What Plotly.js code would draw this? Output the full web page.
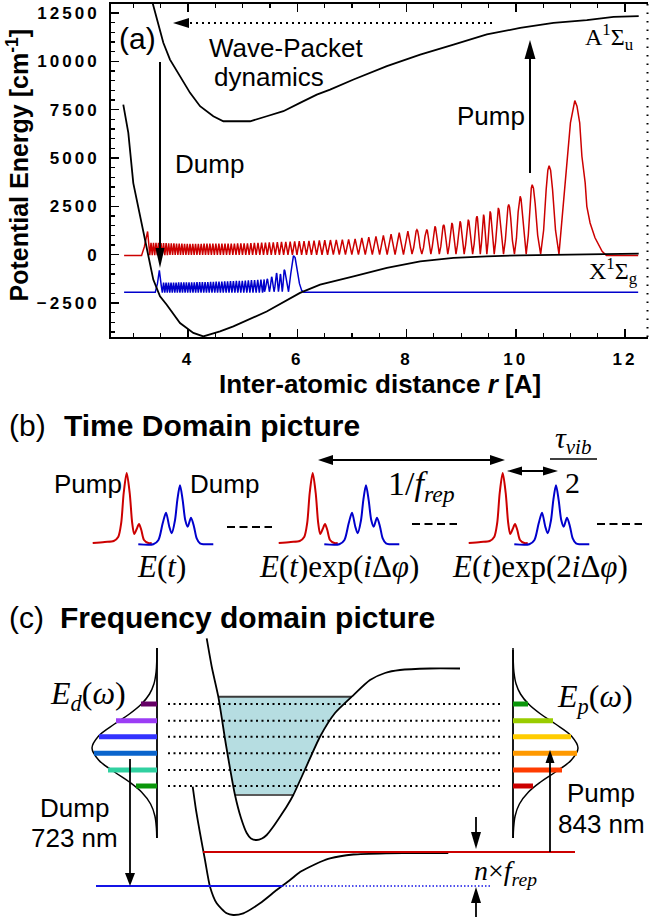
<!DOCTYPE html>
<html>
<head>
<meta charset="utf-8">
<script src="https://cdn.plot.ly/plotly-3.0.1.min.js"></script>
<style>
  html, body { margin:0; padding:0; background:#fff; }
  #fig { width:649px; height:921px; }
  .xtick text, .ytick text { letter-spacing: 3px; }
</style>
</head>
<body>
<div id="fig"></div>
<script>
// ================= DATA =================
// (a) Potential energy curves: r [Å], energy [cm^-1]
const rA = [3.30, 3.354, 3.548, 3.67, 3.853, 4.037, 4.22, 4.463, 4.647, 5.136, 5.441, 5.745, 6.05, 6.357, 6.60, 7.03, 7.64, 8.25, 8.86, 9.47, 10.08, 10.69, 11.30, 11.79, 12.25];
const eA = [13560, 12990, 10960, 10090, 9230, 8370, 7680, 7160, 6900, 6900, 7160, 7420, 7850, 8280, 8540, 9060, 9750, 10350, 10870, 11390, 11730, 11990, 12130, 12300, 12340];
const rX = [2.815, 2.907, 2.998, 3.181, 3.273, 3.364, 3.487, 3.61, 3.853, 4.097, 4.28, 4.586, 4.83, 5.44, 6.05, 6.418, 7.03, 7.64, 8.25, 8.86, 9.47, 10.08, 11.30, 12.25];
const eX = [7760, 6300, 3700, 1290, 90, -1290, -2160, -2590, -3540, -4050, -4230, -3970, -3710, -2940, -1980, -1550, -1120, -690, -350, -170, -90, -35, 15, 50];

// (a) red wave packet (pump)
const redLeadR = [2.83, 3.15, 3.20, 3.26, 3.29];
const redLeadE = [-50, -40, 400, 1200, 300];
const redDenseR   = [3.30, 4.0, 5.0, 6.0, 7.0, 7.6, 8.10];
const redDenseTop = [620, 560, 580, 690, 800, 1000, 1250];
const redDenseBot = [-30, -10, -10, -10, 0, 0, 0];
const redDensePer = [0.045, 0.05, 0.06, 0.085, 0.12, 0.14, 0.17];
const redPeakR = [8.19, 8.37, 8.52, 8.68, 8.83, 8.98, 9.13, 9.29, 9.41, 9.53, 9.68, 9.87, 10.08, 10.30, 10.61];
const redPeakE = [1290, 1300, 1470, 1550, 1640, 1730, 1810, 1990, 2070, 2240, 2420, 2590, 3020, 3620, 4600];
const redTroughE = 30;
const redTailR = [10.79, 10.84, 10.90, 10.95, 11.00, 11.08, 11.12, 11.17, 11.21, 11.27, 11.30, 11.36, 11.45, 11.58, 11.66, 12.24];
const redTailE = [30, 1640, 3370, 5090, 6820, 7970, 7680, 6820, 5090, 3710, 2500, 1640, 870, 170, -50, -50];

// (a) blue wave packet (dump)
const blueLeadR = [2.83, 3.40, 3.44, 3.475, 3.51];
const blueLeadE = [-1950, -1950, -1500, -810, -1600];
const blueDenseR   = [3.53, 4.3, 5.0, 5.40];
const blueDenseTop = [-1450, -1420, -1350, -1280];
const blueDenseBot = [-1960, -1960, -1960, -1960];
const blueDensePer = [0.045, 0.05, 0.055, 0.06];
const bluePeakR = [5.45, 5.53, 5.62, 5.69, 5.76];
const bluePeakE = [-1250, -1150, -950, -1000, -780];
const blueTroughE = -1920;
const blueTailR = [5.84, 5.88, 5.91, 5.93, 5.96, 6.00, 6.04, 6.08, 6.12, 12.24];
const blueTailE = [-1920, -1000, -300, -50, -150, -900, -1500, -1850, -1950, -1950];

// axis ticks (a)
const yTickVals = [-2500, 0, 2500, 5000, 7500, 10000, 12500];
const xTickVals = [4, 6, 8, 10, 12];

// (b) pulse shapes (time offset from pump maximum, amplitude)
const pulseGroupShift = [0, 186, 376];
const pumpT = [-34, -22, -13, -8.5, -5.5, -3, 0, 3, 5.5, 7.5, 10, 12.3, 14.6, 17.3, 21.6, 25];
const pumpA = [0, 1, 2, 6, 20, 50, 70, 50, 20, 9, 14, 19, 13, 3, 0, 0];
const dumpT = [11.6, 26.6, 31.6, 36, 39.3, 42.6, 45, 48.3, 50.6, 53.3, 56, 58.6, 61, 64.3, 67.3, 70, 73.3, 86.6];
const dumpA = [0, 0, 4, 21, 31.6, 17.6, 11, 24, 44, 59, 44, 24, 17.6, 26.6, 17.6, 6, 1, 0];

// (c) schematic: spectral envelope (shared by E_d and E_p), comb lines
const specY   = [648, 660, 672, 684, 694, 704, 714, 724, 736, 748, 760, 772, 782, 792, 804, 816, 828, 838];
const specAmp = [0, 0.2, 0.9, 3.1, 7.5, 15.5, 27.6, 42.5, 58.4, 65, 58.4, 42.5, 27.6, 15.5, 6.4, 2.1, 0.6, 0.2];
const combY = [704, 720.7, 736.7, 753.3, 770, 786];
const dumpBarLen = [16, 41, 58, 63, 49, 21];
const pumpBarLen = [15, 40, 58, 64, 49, 20];
// (c) schematic potentials
const upperX = [206.7, 212, 218.3, 226, 235, 241, 246.7, 251, 256.7, 262, 266.7, 273, 280, 287, 293.3, 305, 320, 335, 351.7, 370, 385, 400, 430, 460];
const upperY = [638.3, 668, 696.7, 745, 795, 818, 833, 838.5, 840, 838.5, 835, 827, 816.7, 806, 795, 769.5, 736.7, 713, 696.7, 680, 673, 670, 668.5, 668.5];
const shadeX = [218.3, 351.7, 335, 320, 305, 293.3, 235, 226, 218.3];
const shadeY = [696.7, 696.7, 713, 736.7, 769.5, 795, 795, 745, 696.7];
const lowerX = [192.7, 196, 200, 205, 210, 216.7, 226.7, 233.3, 243.3, 260, 276.7, 290, 300, 310, 320, 330, 353.3, 386.7, 420, 448.3];
const lowerY = [786.7, 810, 833, 860, 886.7, 903.3, 913.3, 915, 913.3, 903.3, 890, 880, 872, 866.7, 862, 858.3, 854.5, 853.3, 853, 853];

// ================= STYLES =================
const SANS = '"Liberation Sans", Arial, sans-serif';
const SERIF = '"Liberation Serif", "Times New Roman", serif';
const RED = '#cc0000', BLUE = '#0000cc';
const dumpColors = ['#660066', '#9b3cf5', '#3333ff', '#0a64cc', '#30d0a0', '#0a960a'];
const pumpColors = ['#0a960a', '#99cc00', '#ffcc00', '#ff9900', '#ff3c00', '#cc0000'];

// ================= HELPERS =================
function interp(xs, ys, x) {
  if (x <= xs[0]) return ys[0];
  for (let i = 1; i < xs.length; i++) {
    if (x <= xs[i]) { const f = (x - xs[i-1]) / (xs[i] - xs[i-1]); return ys[i-1] + f * (ys[i] - ys[i-1]); }
  }
  return ys[ys.length - 1];
}
function zigzag(R, top, bot, per) {
  const x = [], y = []; let r = R[0], up = false; const end = R[R.length - 1];
  while (r < end) { x.push(r); y.push(interp(R, up ? top : bot, r)); r += interp(R, per, r) / 2; up = !up; }
  return {x, y};
}
function lobes(pR, pE, tStart, tEnd, tE) {
  const t = [tStart]; for (let i = 1; i < pR.length; i++) t.push((pR[i-1] + pR[i]) / 2); t.push(tEnd);
  const F = [0.35, 0.65, 0.85], V = [0.27, 0.73, 0.95];
  const x = [], y = [];
  for (let i = 0; i < pR.length; i++) {
    const a = t[i], p = pR[i], b = t[i+1], h = pE[i] - tE;
    x.push(a); y.push(tE);
    F.forEach((f, k) => { x.push(a + f * (p - a)); y.push(tE + V[k] * h); });
    x.push(p); y.push(pE[i]);
    for (let k = F.length - 1; k >= 0; k--) { x.push(b - F[k] * (b - p)); y.push(tE + V[k] * h); }
  }
  x.push(tEnd); y.push(tE);
  return {x, y};
}
function packet(leadR, leadE, dR, dT, dB, dP, pR, pE, tE, tailR, tailE) {
  const z = zigzag(dR, dT, dB, dP);
  const l = lobes(pR, pE, dR[dR.length-1], tailR[0], tE);
  return { x: [...leadR, ...z.x, ...l.x, ...tailR], y: [...leadE, ...z.y, ...l.y, ...tailE] };
}

const traces = [];
const A = {xaxis: 'x', yaxis: 'y'}, P = {xaxis: 'x2', yaxis: 'y2'};
function add(x, y, opt) {
  traces.push(Object.assign({type: 'scatter', mode: 'lines', x, y, hoverinfo: 'skip', showlegend: false}, opt));
}

// ================= PANEL (a) TRACES =================
const blueWP = packet(blueLeadR, blueLeadE, blueDenseR, blueDenseTop, blueDenseBot, blueDensePer, bluePeakR, bluePeakE, blueTroughE, blueTailR, blueTailE);
const redWP = packet(redLeadR, redLeadE, redDenseR, redDenseTop, redDenseBot, redDensePer, redPeakR, redPeakE, redTroughE, redTailR, redTailE);
add(blueWP.x, blueWP.y, Object.assign({name: 'dump packet', line: {color: BLUE, width: 1.5}}, A));
add(redWP.x, redWP.y, Object.assign({name: 'pump packet', line: {color: RED, width: 1.5}}, A));
add(rX, eX, Object.assign({name: 'X state', line: {color: '#000', width: 1.8}}, A));
add(rA, eA, Object.assign({name: 'A state', line: {color: '#000', width: 1.8}}, A));

// ================= PANEL (b) TRACES (schematic, pixel scale) =================
const bT0 = 126.7, bRedBase = 543, bBlueBase = 544.3;
pulseGroupShift.forEach(s => {
  add(pumpT.map(t => bT0 + s + t), pumpA.map(a => bRedBase - a), Object.assign({line: {color: RED, width: 2, shape: 'spline', smoothing: 0.8}}, P));
  add(dumpT.map(t => bT0 + s + t), dumpA.map(a => bBlueBase - a), Object.assign({line: {color: BLUE, width: 2, shape: 'spline', smoothing: 0.8}}, P));
});

// ================= PANEL (c) TRACES =================
add(shadeX, shadeY, Object.assign({fill: 'toself', fillcolor: '#b6dde1', line: {width: 0}}, P));
add([shadeX[0], shadeX[1]], [shadeY[0], shadeY[1]], Object.assign({line: {color: '#3a3a3a', width: 2}}, P));
add([shadeX[5], shadeX[6]], [shadeY[5], shadeY[6]], Object.assign({line: {color: '#5a5a5a', width: 2}}, P));
// dotted comb levels
const dotX = [], dotY = [];
combY.forEach(v => { dotX.push(168, 502, null); dotY.push(v, v, null); });
add(dotX, dotY, Object.assign({line: {color: '#000', width: 2, dash: '2px,3.5px'}}, P));
add(upperX, upperY, Object.assign({line: {color: '#000', width: 1.8, shape: 'spline', smoothing: 0.6}}, P));
add(lowerX, lowerY, Object.assign({line: {color: '#000', width: 1.8, shape: 'spline', smoothing: 0.6}}, P));
add([203, 575], [852, 852], Object.assign({line: {color: RED, width: 2}}, P));
add([96, 282], [886, 886], Object.assign({line: {color: '#1414e6', width: 2}}, P));
add([282, 492], [886, 886], Object.assign({line: {color: '#1414e6', width: 1.6, dash: '1.5px,2px'}}, P));
// spectral envelopes
const dAxisX = 157, pAxisX = 513;
add([dAxisX, dAxisX], [648, 838], Object.assign({line: {color: '#000', width: 1.8}}, P));
add([pAxisX, pAxisX], [650, 838], Object.assign({line: {color: '#000', width: 1.8}}, P));
add(specAmp.map(a => dAxisX - a), specY, Object.assign({line: {color: '#000', width: 1.5, shape: 'spline'}}, P));
add(specAmp.map(a => pAxisX + a), specY, Object.assign({line: {color: '#000', width: 1.5, shape: 'spline'}}, P));
combY.forEach((v, i) => {
  add([dAxisX - dumpBarLen[i], dAxisX], [v, v], Object.assign({line: {color: dumpColors[i], width: 5}}, P));
  add([pAxisX, pAxisX + pumpBarLen[i]], [v, v], Object.assign({line: {color: pumpColors[i], width: 5}}, P));
});

// ================= SHAPES =================
function head(x, y, dir, len, hw) {
  let p;
  if (dir === 'down') p = `M${x},${y} L${x-hw},${y-len} L${x+hw},${y-len} Z`;
  if (dir === 'up') p = `M${x},${y} L${x-hw},${y+len} L${x+hw},${y+len} Z`;
  if (dir === 'left') p = `M${x},${y} L${x+len},${y-hw} L${x+len},${y+hw} Z`;
  if (dir === 'right') p = `M${x},${y} L${x-len},${y-hw} L${x-len},${y+hw} Z`;
  return {type: 'path', xref: 'x2', yref: 'y2', path: p, fillcolor: '#000', line: {width: 0}, layer: 'above'};
}
function seg(x0, y0, x1, y1, width, dash, color) {
  return {type: 'line', xref: 'x2', yref: 'y2', x0, y0, x1, y1, layer: 'above',
          line: {color: color || '#000', width: width || 2, dash: dash || 'solid'}};
}
const shapes = [
  // panel (a)
  seg(190, 23, 493, 23, 2, '2px,4px'), head(173, 23, 'left', 16, 5),
  seg(160, 62, 160, 250, 2), head(160, 268, 'down', 20, 4.5),
  seg(530, 173, 530, 57, 2), head(530, 40, 'up', 19, 5.5),
  seg(647.5, 4, 647.5, 337, 2, '1.5px,7px'),
  // panel (b)
  seg(227, 527, 272, 527, 2, '8px,4.5px'), seg(412, 524, 457, 524, 2, '8px,4.5px'), seg(597, 524, 642, 524, 2, '8px,4.5px'),
  seg(330, 460, 492, 460, 2), head(318, 460, 'left', 15, 5), head(505, 460, 'right', 15, 5),
  seg(520, 471, 545, 471, 2), head(507, 471, 'left', 15, 4.5), head(558, 471, 'right', 15, 4.5),
  seg(550, 459, 597, 459, 1.5),
  // panel (c)
  seg(130, 759, 130, 875, 1.8), head(130, 886, 'down', 13, 5),
  seg(550, 852, 550, 762, 1.8), head(550, 750, 'up', 13, 4.5),
  seg(476, 817, 476, 835, 1.8), head(476, 849, 'down', 17, 5),
  seg(476, 917, 476, 903, 1.8), head(476, 887, 'up', 16, 5)
];

// ================= ANNOTATIONS =================
function txt(x, y, text, size, opt, fontOpt) {
  return Object.assign({xref: 'x2', yref: 'y2', x, y, text, showarrow: false, xanchor: 'left', yanchor: 'middle',
    font: Object.assign({size, family: SANS, color: '#000'}, fontOpt || {})}, opt || {});
}
const BOLD = {weight: 'bold'}, SER = {family: SERIF};
const annotations = [
  // panel (a)
  txt(117, 38, '(a)', 30),
  txt(207, 48, 'Wave-Packet', 26),
  txt(212, 77, 'dynamics', 26),
  txt(173, 164, 'Dump', 26),
  txt(455, 116, 'Pump', 26),
  txt(583, 37, 'A<sup>1</sup>Σ<sub>u</sub>', 24, null, SER),
  txt(587, 271, 'X<sup>1</sup>Σ<sub>g</sub>', 24, null, SER),
  txt(17.5, 165, 'Potential Energy [cm<sup>-1</sup>]', 25, {xanchor: 'center', textangle: -90}, BOLD),
  txt(380, 384, 'Inter-atomic distance <i>r</i> [A]', 26, {xanchor: 'center'}, BOLD),
  // panel (b)
  txt(7, 425, '(b)', 30),
  txt(62, 425, 'Time Domain picture', 30, null, BOLD),
  txt(52, 484, 'Pump', 26),
  txt(188, 484, 'Dump', 26),
  txt(135, 566, '<i>E</i>(<i>t</i>)', 31, null, SER),
  txt(257, 566, '<i>E</i>(<i>t</i>)exp(<i>i</i>Δ<i>φ</i>)', 31, null, SER),
  txt(450, 566, '<i>E</i>(<i>t</i>)exp(2<i>i</i>Δ<i>φ</i>)', 31, null, SER),
  txt(386, 486, '1/<i>f</i><sub><i>rep</i></sub>', 34, null, SER),
  txt(553, 440, '<i>τ</i><sub><i>vib</i></sub>', 30, null, SER),
  txt(572.5, 482, '2', 30, {xanchor: 'center'}, SER),
  // panel (c)
  txt(7, 617, '(c)', 30),
  txt(58, 617, 'Frequency domain picture', 30, null, BOLD),
  txt(48, 695, '<i>E</i><sub><i>d</i></sub>(<i>ω</i>)', 32, null, SER),
  txt(555, 698, '<i>E</i><sub><i>p</i></sub>(<i>ω</i>)', 32, null, SER),
  txt(74, 808, 'Dump', 26, {xanchor: 'center'}),
  txt(74, 838, '723 nm', 26, {xanchor: 'center'}),
  txt(601, 793, 'Pump', 26, {xanchor: 'center'}),
  txt(601, 824, '843 nm', 26, {xanchor: 'center'}),
  txt(472, 872, '<i>n</i>×<i>f</i><sub><i>rep</i></sub>', 28, null, SER)
];

// ================= LAYOUT =================
const tickFont = {size: 17, family: SANS, weight: 'bold', color: '#000'};
const layout = {
  width: 649, height: 921,
  margin: {l: 0, r: 0, t: 0, b: 0, pad: 0},
  paper_bgcolor: '#ffffff', plot_bgcolor: 'rgba(0,0,0,0)',
  showlegend: false,
  font: {family: SANS, color: '#000'},
  xaxis: {
    domain: [111/649, 648/649], range: [2.59, 12.42], anchor: 'y',
    tickmode: 'array', tickvals: xTickVals,
    ticks: 'inside', ticklen: 8, tickwidth: 1.5, tickcolor: '#000',
    minor: {dtick: 0.5, tick0: 0, ticks: 'inside', ticklen: 4, tickwidth: 1.2, tickcolor: '#000'},
    showline: true, linewidth: 2, linecolor: '#000', mirror: 'ticks',
    showgrid: false, zeroline: false, tickfont: tickFont, ticklabelstandoff: 6
  },
  yaxis: {
    domain: [1 - 337/921, 1 - 4/921], range: [-4260, 12966], anchor: 'x',
    tickmode: 'array', tickvals: yTickVals, tickformat: 'd',
    ticks: 'inside', ticklen: 8, tickwidth: 1.5, tickcolor: '#000',
    minor: {dtick: 500, tick0: 0, ticks: 'inside', ticklen: 4, tickwidth: 1.2, tickcolor: '#000'},
    showline: true, linewidth: 2, linecolor: '#000', mirror: false,
    showgrid: false, zeroline: false, tickfont: tickFont, ticklabelstandoff: 6
  },
  xaxis2: {domain: [0, 1], range: [0, 649], anchor: 'y2', visible: false, fixedrange: true},
  yaxis2: {domain: [0, 1], range: [921, 0], anchor: 'x2', visible: false, fixedrange: true},
  shapes, annotations
};

Plotly.newPlot('fig', traces, layout, {displayModeBar: false, staticPlot: true});
</script>
</body>
</html>
